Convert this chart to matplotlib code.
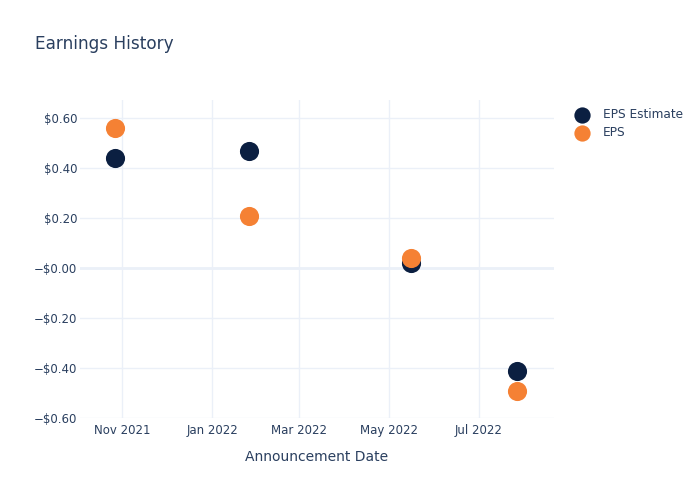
import matplotlib.pyplot as plt
import pandas as pd

# datos
fechas = pd.to_datetime(["2021-10-27", "2022-01-26", "2022-05-16", "2022-07-27"])
eps_estimado = [0.44, 0.47, 0.02, -0.41]
eps_real = [0.56, 0.21, 0.04, -0.49]

y_ticks = [-0.6, -0.4, -0.2, 0.0, 0.2, 0.4, 0.6]
y_etiquetas = ["\u2212$0.60", "\u2212$0.40", "\u2212$0.20", "\u2212$0.00", "$0.20", "$0.40", "$0.60"]
x_ticks = pd.to_datetime(["2021-11-01", "2022-01-01", "2022-03-01", "2022-05-01", "2022-07-01"])
x_etiquetas = ["Nov 2021", "Jan 2022", "Mar 2022", "May 2022", "Jul 2022"]

texto = "#2a3f5f"
grilla = "#ebf0f8"
azul = "#0b1f41"
naranja = "#f58134"

fig = plt.figure(figsize=(7, 5), dpi=100)
ax = fig.add_axes([0.114, 0.164, 0.677, 0.636])

ax.scatter(fechas, eps_estimado, s=190, color=azul, label="EPS Estimate", zorder=3, linewidths=0)
ax.scatter(fechas, eps_real, s=190, color=naranja, label="EPS", zorder=4, linewidths=0)

ax.set_xlim(pd.Timestamp("2021-10-03"), pd.Timestamp("2022-08-21"))
ax.set_ylim(-0.60, 0.672)

ax.set_xticks(x_ticks)
ax.set_xticklabels(x_etiquetas)
ax.set_yticks(y_ticks)
ax.set_yticklabels(y_etiquetas)

ax.grid(True, color=grilla, linewidth=1)
ax.axhline(0, color=grilla, linewidth=2, zorder=1)
ax.set_axisbelow(True)
for lado in ax.spines.values():
    lado.set_visible(False)
ax.tick_params(length=0, colors=texto, labelsize=8.5)
ax.tick_params(axis="x", pad=4)
ax.tick_params(axis="y", pad=2)

ax.set_xlabel("Announcement Date", color=texto, fontsize=10, labelpad=10)
fig.text(0.05, 0.912, "Earnings History", color=texto, fontsize=12.2, va="center")

leyenda = ax.legend(loc="upper left", bbox_to_anchor=(1.025, 0.99), frameon=False,
                    fontsize=8.7, labelcolor=texto, handletextpad=0.7, borderaxespad=0,
                    markerscale=0.85, labelspacing=0.4)

fig.savefig("out.png", dpi=100)
